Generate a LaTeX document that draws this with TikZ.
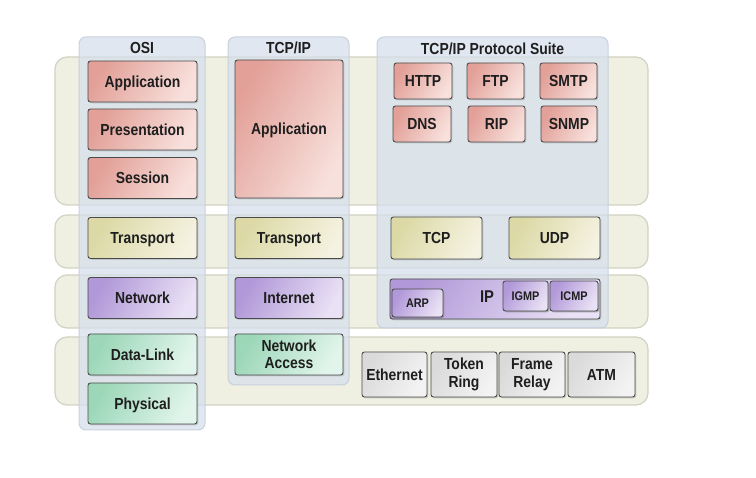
\documentclass[tikz,border=0pt]{standalone}
\usepackage{fontspec}
\setmainfont{Liberation Sans}[FakeStretch=0.87]
\usetikzlibrary{shadows}
\definecolor{bandfill}{HTML}{EFEFE2}
\definecolor{bandborder}{HTML}{D2D2C2}
\definecolor{colfill}{HTML}{D6DFEC}
\definecolor{colborder}{HTML}{C4CEDC}
\definecolor{boxborder}{HTML}{4A4A4A}
\definecolor{redA}{HTML}{E2A098}
\definecolor{redB}{HTML}{F8E0DC}
\definecolor{yelA}{HTML}{DCD9A6}
\definecolor{yelB}{HTML}{F4F2E0}
\definecolor{purA}{HTML}{B198D8}
\definecolor{purB}{HTML}{E9E1F5}
\definecolor{grnA}{HTML}{9CD7B8}
\definecolor{grnB}{HTML}{E2F5EC}
\definecolor{gryA}{HTML}{DADADA}
\definecolor{gryB}{HTML}{F3F3F3}
\definecolor{txt}{HTML}{1E1E1E}
\tikzset{
  band/.style={draw=bandborder, fill=bandfill, rounded corners=12pt, line width=1.2pt},
  col/.style={draw=colborder, fill=colfill, fill opacity=0.72, draw opacity=0.9, rounded corners=7pt, line width=1pt},
  coltitle/.style={font=\fontsize{16}{18}\selectfont\bfseries, text=txt, inner sep=0pt},
  lbox/.style={draw=boxborder, line width=0.9pt, rounded corners=2.5pt, inner sep=0pt, align=center,
    font=\fontsize{16}{18.5}\selectfont\bfseries, text=txt, text height=11.5pt, text depth=0pt,
    drop shadow={shadow xshift=1.3pt, shadow yshift=-1.3pt, opacity=0.3}},
  twoline/.style={text height={}, text depth={}},
  sbox/.style={lbox, font=\fontsize{12.5}{14}\selectfont\bfseries, text height=9pt},
  redbox/.style={lbox, left color=redA, right color=redB, shading angle=60},
  yelbox/.style={lbox, left color=yelA, right color=yelB, shading angle=60},
  purbox/.style={lbox, left color=purA, right color=purB, shading angle=60},
  grnbox/.style={lbox, left color=grnA, right color=grnB, shading angle=60},
  grybox/.style={lbox, left color=gryA, right color=gryB, shading angle=60},
  iptext/.style={font=\fontsize{17}{19}\selectfont\bfseries, text=txt, inner sep=0pt},
}
\begin{document}
\begin{tikzpicture}[x=1pt,y=-1pt]
\useasboundingbox[fill=white] (0,0) rectangle (756,478);
% horizontal bands
\draw[band] (55,57) rectangle (648,205);
\draw[band] (55,215) rectangle (648,268);
\draw[band] (55,275) rectangle (648,328);
\draw[band] (55,337) rectangle (648,405);
% columns
\draw[col] (79,37) rectangle (205,430);
\draw[col] (228,37) rectangle (349,385);
\draw[col] (377,37) rectangle (608,328);
% titles
\node[coltitle] (tosi) at (142,48) {OSI};
\node[coltitle] (ttcp) at (288.5,48) {TCP/IP};
\node[coltitle] (tsuite) at (492.5,49) {TCP/IP Protocol Suite};
% OSI column
\node[redbox, minimum width=109pt, minimum height=41pt] (oapp) at (142.5,81.5) {Application};
\node[redbox, minimum width=109pt, minimum height=41pt] (opres) at (142.5,129.5) {Presentation};
\node[redbox, minimum width=109pt, minimum height=41pt] (osess) at (142.5,178) {Session};
\node[yelbox, minimum width=109pt, minimum height=41pt] (otrans) at (142.5,238) {Transport};
\node[purbox, minimum width=109pt, minimum height=41pt] (onet) at (142.5,298) {Network};
\node[grnbox, minimum width=109pt, minimum height=41pt] (odl) at (142.5,354.5) {Data-Link};
\node[grnbox, minimum width=109pt, minimum height=41pt] (ophy) at (142.5,403.5) {Physical};
% TCP/IP column
\node[redbox, minimum width=108pt, minimum height=138pt] (tapp) at (289,129) {Application};
\node[yelbox, minimum width=108pt, minimum height=41pt] (ttrans) at (289,238) {Transport};
\node[purbox, minimum width=108pt, minimum height=41pt] (tint) at (289,298) {Internet};
\node[grnbox, twoline, minimum width=108pt, minimum height=41pt] (tna) at (289,354.5) {Network\\[-1pt]Access};
% Suite: application protocols
\node[redbox, minimum width=58pt, minimum height=36pt] (http) at (423,81) {HTTP};
\node[redbox, minimum width=57pt, minimum height=36pt] (ftp) at (495.5,81) {FTP};
\node[redbox, minimum width=57pt, minimum height=36pt] (smtp) at (568.5,81) {SMTP};
\node[redbox, minimum width=58pt, minimum height=36pt] (dns) at (422,124) {DNS};
\node[redbox, minimum width=57pt, minimum height=36pt] (rip) at (496.5,124) {RIP};
\node[redbox, minimum width=56pt, minimum height=36pt] (snmp) at (569,124) {SNMP};
% transport
\node[yelbox, minimum width=91pt, minimum height=42pt] (tcp) at (436.5,238) {TCP};
\node[yelbox, minimum width=91pt, minimum height=42pt] (udp) at (554.5,238) {UDP};
% internet
\node[purbox, minimum width=210pt, minimum height=40pt] (ip) at (495,299) {};
\node[iptext] (iplbl) at (487,297) {IP};
\node[purbox, sbox, minimum width=51pt, minimum height=28pt] (arp) at (417.5,303) {ARP};
\node[purbox, sbox, minimum width=45pt, minimum height=30pt] (igmp) at (525.5,296) {IGMP};
\node[purbox, sbox, minimum width=48pt, minimum height=30pt] (icmp) at (574,296) {ICMP};
% network access
\node[grybox, minimum width=65pt, minimum height=45pt] (eth) at (394.5,374.5) {Ethernet};
\node[grybox, twoline, minimum width=66pt, minimum height=45pt] (tr) at (464,374.5) {Token\\[-1pt]Ring};
\node[grybox, twoline, minimum width=66pt, minimum height=45pt] (fr) at (532,374.5) {Frame\\[-1pt]Relay};
\node[grybox, minimum width=67pt, minimum height=45pt] (atm) at (601.5,374.5) {ATM};
\end{tikzpicture}
\end{document}
